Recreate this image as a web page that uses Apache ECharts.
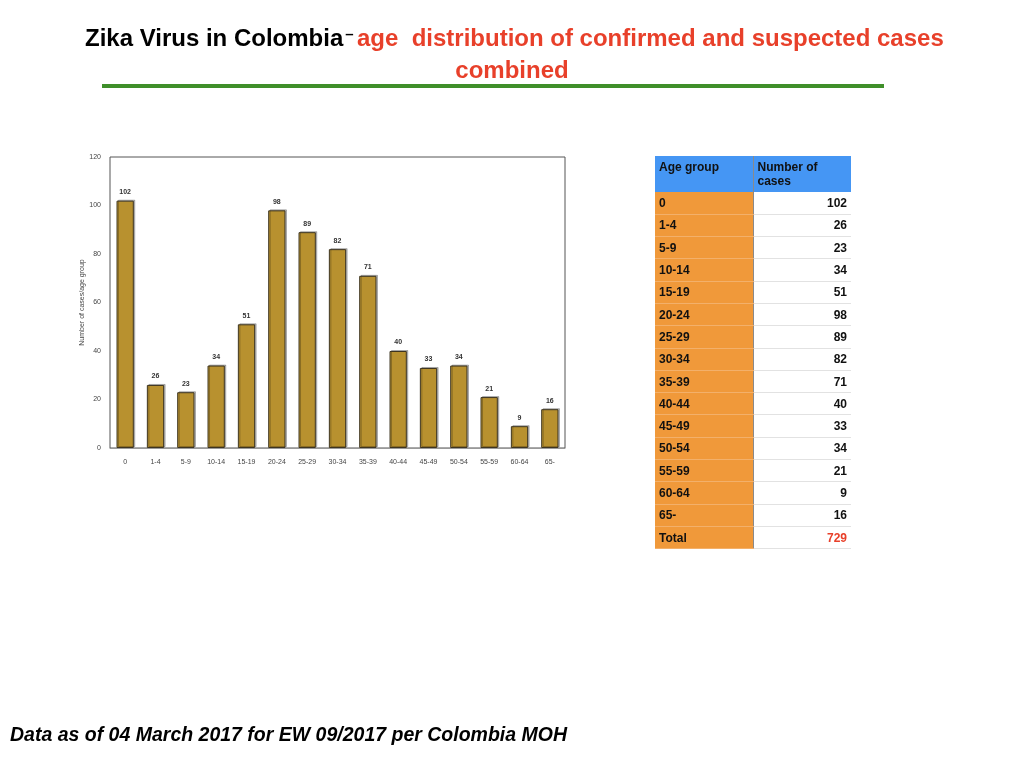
<!DOCTYPE html>
<html>
<head>
<meta charset="utf-8">
<script src="https://cdn.jsdelivr.net/npm/echarts@6/dist/echarts.min.js"></script>
<style>
    html, body {margin: 0; padding: 0; background: #fff;}
    #main {width: 1024px; height: 768px; position: absolute; left: 0; top: 0;}
    #tbl {position: absolute; left: 655px; top: 156px; border-collapse: collapse;
        font-family: "Liberation Sans", Arial, sans-serif; font-size: 12px; font-weight: bold; color: #111;}
    #tbl td {padding: 0 4px; height: 22.3px; box-sizing: border-box; border-bottom: 1px solid #e2e2e2;}
    #tbl td.c1 {width: 98px; background: #f0993a; border-bottom-color: #f3b06a; border-right: 1px solid #8a8a8a;}
    #tbl td.c2 {width: 98px; background: #fff; text-align: right;}
    #tbl tr.head td {background: #4596f4; height: 36px; vertical-align: top; padding-top: 4px; text-align: left; line-height: 14px; border-bottom: none;}
</style>
</head>
<body>
<div id="main"></div>
<table id="tbl"></table>
<script>
var ageGroups = ['0', '1-4', '5-9', '10-14', '15-19', '20-24', '25-29', '30-34', '35-39', '40-44', '45-49', '50-54', '55-59', '60-64', '65-'];
var cases = [102, 26, 23, 34, 51, 98, 89, 82, 71, 40, 33, 34, 21, 9, 16];
var yTicks = [0, 120, 20];   // min, max, interval
var tableHead = ['Age group', 'Number of<br>cases'];
var totalLabel = 'Total';

//表格
function buildTable() {
    var html = '<tr class="head"><td class="c1">' + tableHead[0] + '</td><td class="c2">' + tableHead[1] + '</td></tr>';
    var total = 0;
    for (var i = 0; i < ageGroups.length; i++) {
        total += cases[i];
        html += '<tr><td class="c1">' + ageGroups[i] + '</td><td class="c2">' + cases[i] + '</td></tr>';
    }
    html += '<tr><td class="c1">' + totalLabel + '</td><td class="c2" style="color:#e8402a">' + total + '</td></tr>';
    document.getElementById('tbl').innerHTML = html;
}

//柱状图
function chart1() {
    var myChart = echarts.init(document.getElementById('main'));
    var font = '"Liberation Sans", Arial, sans-serif';
    var option = {
        backgroundColor: '#fff',
        animation: false,
        title: [
            {
                left: 80,
                top: 22,
                text: '{a|Zika Virus in Colombia}{d|–}{b| }{c|age  distribution of confirmed and suspected cases}',
                textStyle: {
                    rich: {
                        a: {fontFamily: font, fontWeight: 'bold', fontSize: 24, color: '#000'},
                        d: {fontFamily: font, fontWeight: 'bold', fontSize: 15, color: '#000', verticalAlign: 'top', padding: [0, 0, 8, 2]},
                        b: {fontSize: 12},
                        c: {fontFamily: font, fontWeight: 'bold', fontSize: 24, color: '#e8402a'}
                    }
                }
            },
            {
                left: 'center',
                top: 54,
                text: 'combined',
                textStyle: {fontFamily: font, fontWeight: 'bold', fontSize: 24, color: '#e8402a'}
            },
            {
                left: 5,
                top: 721,
                text: 'Data as of 04 March 2017 for EW 09/2017 per Colombia MOH',
                textStyle: {fontFamily: font, fontWeight: 'bold', fontStyle: 'italic', fontSize: 19.5, color: '#000'}
            }
        ],
        graphic: [
            {   //绿色分隔线
                type: 'rect',
                shape: {x: 102, y: 84, width: 782, height: 4},
                style: {fill: '#3f8f2a'}
            }
        ],
        grid: {
            left: 110,
            top: 157,
            width: 455,
            height: 291,
            show: true,
            borderColor: '#555',
            borderWidth: 1,
            backgroundColor: '#fff'
        },
        xAxis: {
            type: 'category',
            data: ageGroups,
            axisLine: {lineStyle: {color: '#999', width: 1}},
            axisTick: {show: false},
            axisLabel: {fontFamily: font, fontSize: 7, color: '#444', margin: 11, interval: 0}
        },
        yAxis: {
            type: 'value',
            min: yTicks[0],
            max: yTicks[1],
            interval: yTicks[2],
            name: 'Number of cases/age group',
            nameLocation: 'middle',
            nameGap: 21,
            nameTextStyle: {fontFamily: font, fontSize: 7, color: '#444'},
            axisLine: {show: false},
            axisTick: {show: false},
            splitLine: {show: false},
            axisLabel: {fontFamily: font, fontSize: 7, color: '#444', margin: 9}
        },
        series: [
            {
                type: 'bar',
                data: cases,
                barWidth: '57%',
                itemStyle: {
                    color: '#b8912f',
                    borderColor: '#3d3420',
                    borderWidth: 1,
                    shadowColor: 'rgba(0,0,0,0.25)',
                    shadowOffsetX: 1.5,
                    shadowOffsetY: -1
                },
                label: {
                    show: true,
                    position: 'top',
                    distance: 5,
                    fontFamily: font,
                    fontSize: 7,
                    fontWeight: 'bold',
                    color: '#333'
                }
            }
        ]
    };
    myChart.setOption(option);   //为echarts对象加载数据
}

buildTable();
chart1();
</script>
</body>
</html>
